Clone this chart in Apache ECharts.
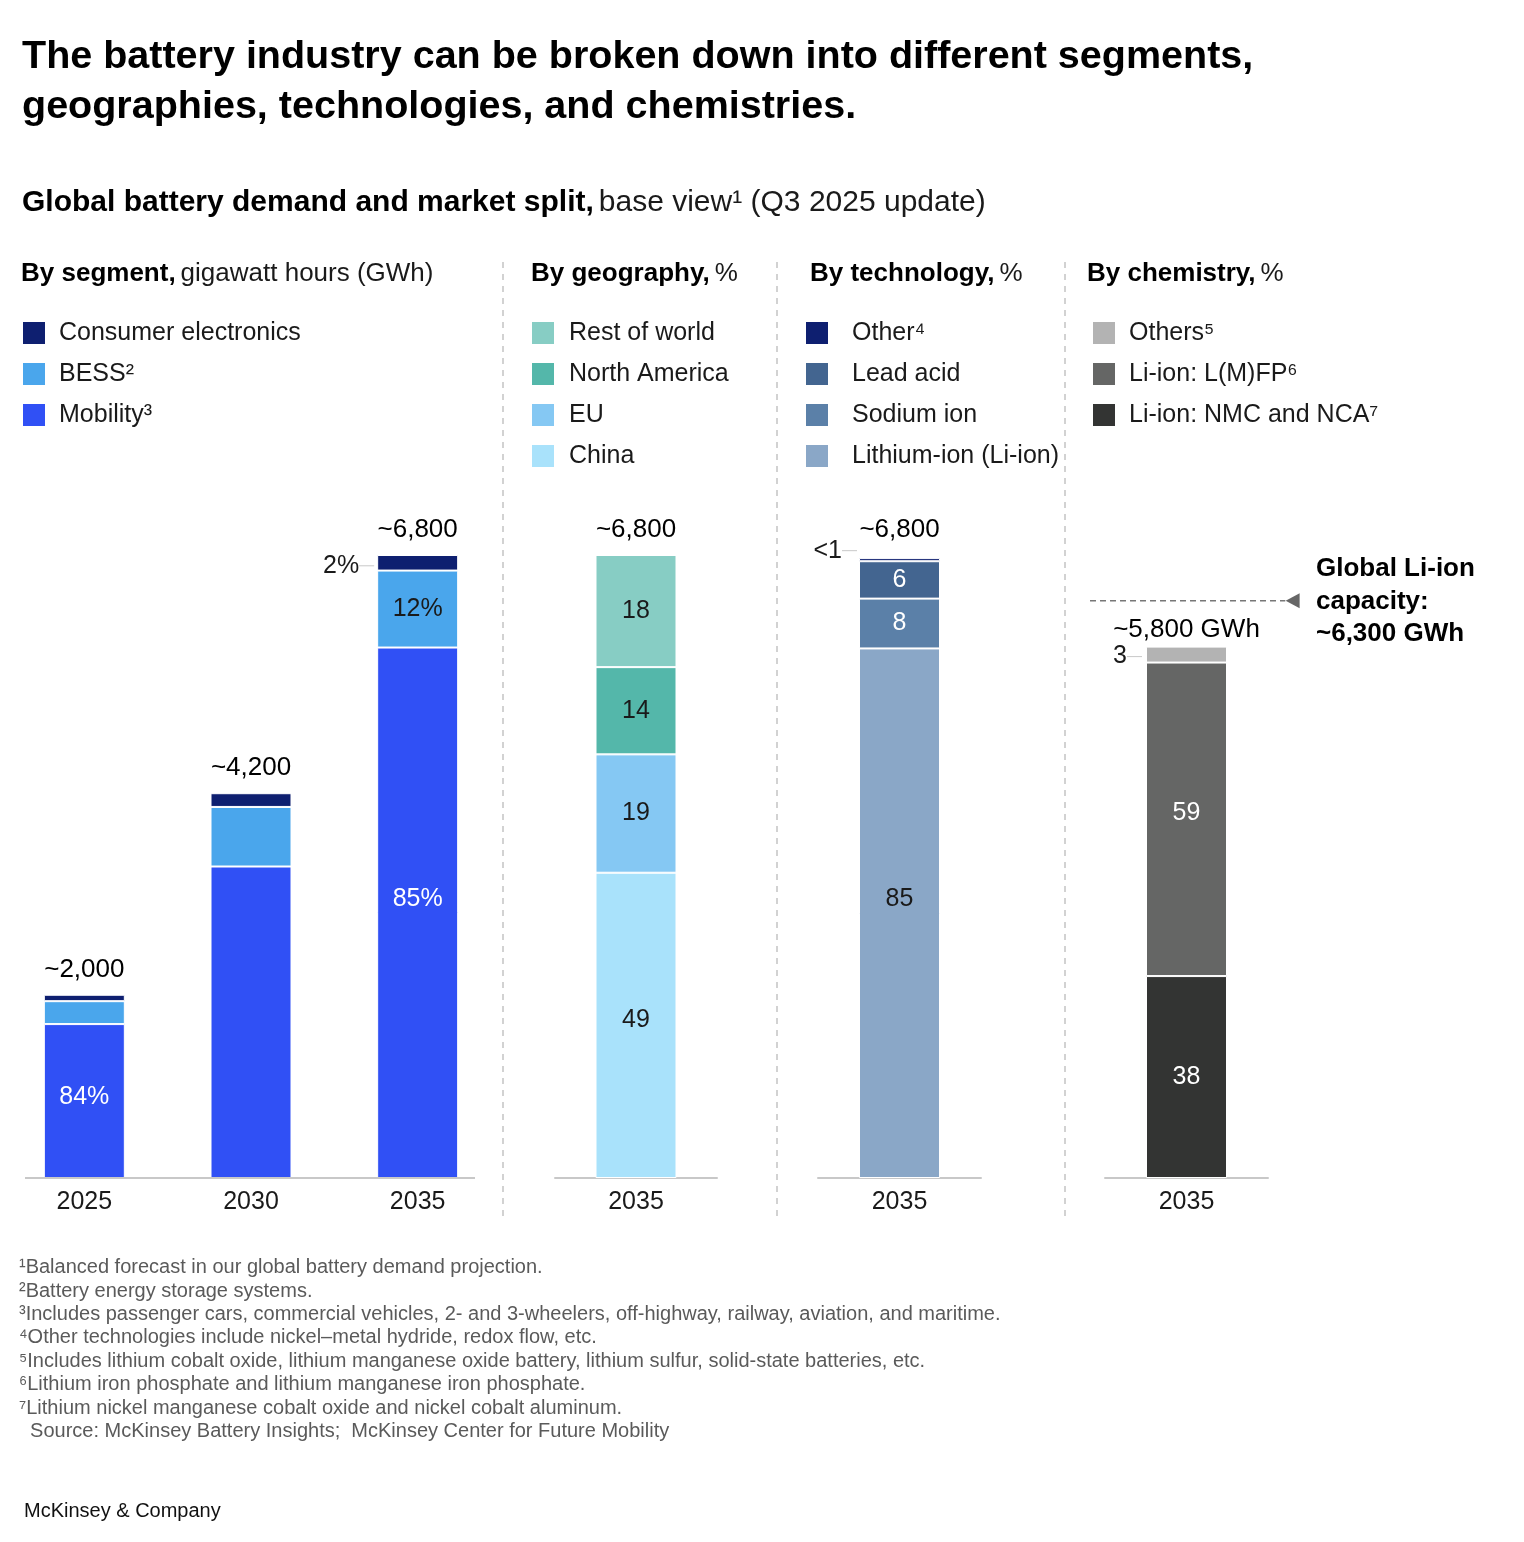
<!DOCTYPE html>
<html>
<head>
<meta charset="utf-8">
<script src="https://cdn.jsdelivr.net/npm/echarts@6/dist/echarts.min.js"></script>
<style>
html,body{margin:0;padding:0;background:#fff;}
#chart{width:1524px;height:1542px;}
</style>
</head>
<body>
<div id="chart"></div>
<script>
// ---------- DATA ----------
const years = ['2025', '2030', '2035'];
const mobility = [1680, 3400, 5790];
const bess = [250, 650, 840];
const consumer = [70, 150, 170];
const segmentTotals = [2000, 4200, 6800];
const mobilityShareLabels = ['84%', '', '85%'];
const bessShareLabels = ['', '', '12%'];
const consumerShareLabels = ['', '', '2%'];

const splitYear = ['2035'];
const totalDemand2035 = 6800;

const geoChina = [49];
const geoEU = [19];
const geoNorthAmerica = [14];
const geoRestOfWorld = [18];

const techLiIon = [85];
const techSodiumIon = [8];
const techLeadAcid = [6];
const techOther = [0.5];

const chemNMC = [38];
const chemLFP = [59];
const chemOthers = [3];
const chemTotalGWh = 5800;
const liIonCapacityGWh = 6300;

// ---------- STYLE ----------
const FONT = 'Liberation Sans, Arial, sans-serif';
const TXT = '#1a1a1a';
const baseY = 1178;
const chartTop = 555;
const bottomPx = 1542 - baseY;

const chart = echarts.init(document.getElementById('chart'), null, {renderer: 'canvas'});

function fmtNum(n) { return n.toLocaleString('en-US'); }

const leaderRich = {
  t: {fontSize: 25, color: TXT, fontFamily: FONT},
  l: {width: 15, height: 1, backgroundColor: '#c8c8c8', verticalAlign: 'middle'}
};

function barSeries(name, data, color, xi, stack, labelOpt) {
  return {
    type: 'bar', name: name, stack: stack, data: data,
    xAxisIndex: xi, yAxisIndex: xi, barWidth: 81,
    itemStyle: {color: color, borderColor: '#fff', borderWidth: 1},
    label: Object.assign({show: true, position: 'inside', fontSize: 25, fontFamily: FONT, color: TXT}, labelOpt || {}),
    emphasis: {disabled: true}, animation: false
  };
}

function totalSeries(xi, data, formatter, dist) {
  return {
    type: 'scatter', xAxisIndex: xi, yAxisIndex: xi, data: data, symbolSize: 0,
    itemStyle: {opacity: 1},
    label: {show: true, position: 'top', distance: dist, fontSize: 26, fontFamily: FONT, color: '#000', opacity: 1, formatter: formatter},
    emphasis: {disabled: true}, animation: false, z: 5
  };
}

function legend(left, padLeft, names) {
  return {
    left: left, top: 320, orient: 'vertical', padding: 0,
    itemWidth: 24, itemHeight: 24, itemGap: 15, icon: 'rect', selectedMode: false,
    data: names,
    textStyle: {fontSize: 25, lineHeight: 24, fontFamily: FONT, color: TXT, padding: [0, 0, 0, padLeft]}
  };
}

function header(left, bold, reg) {
  return {
    left: left, top: 261, padding: 0,
    text: '{b|' + bold + '} {r|' + reg + '}',
    textStyle: {fontWeight: 'normal', rich: {
      b: {fontSize: 26, fontWeight: 'bold', fontFamily: FONT, color: '#000'},
      r: {fontSize: 26, fontWeight: 'normal', fontFamily: FONT, color: TXT}
    }}
  };
}

const xAxisBase = {
  type: 'category', data: splitYear,
  axisTick: {show: false},
  axisLine: {show: true, lineStyle: {color: '#c8c8c8', width: 2}},
  axisLabel: {fontSize: 25, fontFamily: FONT, color: TXT, margin: 12}
};

const chemMax = 100 * totalDemand2035 / chemTotalGWh;

const option = {
  backgroundColor: '#fff',
  textStyle: {fontFamily: FONT},
  title: [
    {left: 22, top: 32, padding: 0, text: 'The battery industry can be broken down into different segments,\ngeographies, technologies, and chemistries.',
     textStyle: {fontSize: 39.5, fontWeight: 'bold', fontFamily: FONT, color: '#000', lineHeight: 50}},
    {left: 22, top: 188, padding: 0, text: '{b|Global battery demand and market split,} {r|base view¹ (Q3 2025 update)}',
     textStyle: {fontWeight: 'normal', rich: {
       b: {fontSize: 30, fontWeight: 'bold', fontFamily: FONT, color: '#000'},
       r: {fontSize: 30, fontWeight: 'normal', fontFamily: FONT, color: TXT}}}},
    header(21, 'By segment,', 'gigawatt hours (GWh)'),
    header(531, 'By geography,', '%'),
    header(810, 'By technology,', '%'),
    header(1087, 'By chemistry,', '%')
  ],
  legend: [
    legend(21, 8, ['Consumer electronics', 'BESS²', 'Mobility³']),
    legend(530, 9, ['Rest of world', 'North America', 'EU', 'China']),
    legend(804, 18, ['Other⁴', 'Lead acid', 'Sodium ion', 'Lithium-ion (Li-ion)']),
    legend(1091, 8, ['Others⁵', 'Li-ion: L(M)FP⁶', 'Li-ion: NMC and NCA⁷'])
  ],
  grid: [
    {left: 1, width: 500, top: chartTop, bottom: bottomPx},
    {left: 555, width: 162, top: chartTop, bottom: bottomPx},
    {left: 818, width: 163, top: chartTop, bottom: bottomPx},
    {left: 1105, width: 163, top: chartTop, bottom: bottomPx},
    {left: 1090, width: 210, top: chartTop, bottom: bottomPx}
  ],
  xAxis: [
    Object.assign({}, xAxisBase, {gridIndex: 0, data: years, axisLine: {show: false}}),
    Object.assign({}, xAxisBase, {gridIndex: 1}),
    Object.assign({}, xAxisBase, {gridIndex: 2}),
    Object.assign({}, xAxisBase, {gridIndex: 3}),
    {type: 'value', gridIndex: 4, min: 0, max: 1, show: false}
  ],
  yAxis: [
    {type: 'value', gridIndex: 0, min: 0, max: totalDemand2035, show: false},
    {type: 'value', gridIndex: 1, min: 0, max: 100, show: false},
    {type: 'value', gridIndex: 2, min: 0, max: 100, show: false},
    {type: 'value', gridIndex: 3, min: 0, max: chemMax, show: false},
    {type: 'value', gridIndex: 4, min: 0, max: totalDemand2035, show: false}
  ],
  series: [
    // segment
    barSeries('Mobility³', mobility.map((v, i) => ({value: v, label: {offset: [0, i === 2 ? -14 : -4]}})), '#3050f5', 0, 'seg',
      {color: '#fff', formatter: p => mobilityShareLabels[p.dataIndex]}),
    barSeries('BESS²', bess, '#4aa6ec', 0, 'seg',
      {formatter: p => bessShareLabels[p.dataIndex]}),
    barSeries('Consumer electronics', consumer, '#0e1f70', 0, 'seg',
      {position: 'left', distance: 3, offset: [0, 3], rich: leaderRich,
       formatter: p => consumerShareLabels[p.dataIndex] ? '{t|' + consumerShareLabels[p.dataIndex] + '}{l|}' : ''}),
    totalSeries(0, segmentTotals, p => '~' + fmtNum(p.value), 12),
    // geography
    barSeries('China', geoChina.map(v => ({value: v, label: {offset: [0, -5]}})), '#a9e2fb', 1, 'geo'),
    barSeries('EU', geoEU, '#85c8f3', 1, 'geo'),
    barSeries('North America', geoNorthAmerica, '#54b7aa', 1, 'geo'),
    barSeries('Rest of world', geoRestOfWorld, '#87cdc4', 1, 'geo'),
    totalSeries(1, [100], () => '~' + fmtNum(totalDemand2035), 12),
    // technology
    barSeries('Lithium-ion (Li-ion)', techLiIon.map(v => ({value: v, label: {offset: [0, -14]}})), '#8aa7c7', 2, 'tech'),
    barSeries('Sodium ion', techSodiumIon, '#5b80a8', 2, 'tech', {color: '#fff'}),
    barSeries('Lead acid', techLeadAcid, '#436590', 2, 'tech', {color: '#fff'}),
    barSeries('Other⁴', techOther, '#0e1f70', 2, 'tech',
      {position: 'left', distance: 2, offset: [0, -9], rich: leaderRich,
       formatter: p => '{t|' + (p.value < 1 ? '<1' : p.value) + '}{l|}'}),
    totalSeries(2, [100], () => '~' + fmtNum(totalDemand2035), 12),
    // chemistry
    barSeries('Li-ion: NMC and NCA⁷', chemNMC, '#333433', 3, 'chem', {color: '#fff'}),
    barSeries('Li-ion: L(M)FP⁶', chemLFP.map(v => ({value: v, label: {offset: [0, -6]}})), '#656665', 3, 'chem', {color: '#fff'}),
    barSeries('Others⁵', chemOthers, '#b3b3b3', 3, 'chem',
      {position: 'left', distance: 4, offset: [0, 2], rich: leaderRich,
       formatter: p => '{t|' + p.value + '}{l|}'}),
    totalSeries(3, [100], () => '~' + fmtNum(chemTotalGWh) + ' GWh', 4),
    // Li-ion capacity reference
    {type: 'line', xAxisIndex: 4, yAxisIndex: 4, data: [[0, liIonCapacityGWh], [0.93, liIonCapacityGWh]],
     symbol: 'none', lineStyle: {color: '#777', width: 1.5, type: [6, 4]}, animation: false, silent: true},
    {type: 'scatter', xAxisIndex: 4, yAxisIndex: 4, data: [[0.965, liIonCapacityGWh]],
     symbol: 'triangle', symbolSize: [15, 14], symbolRotate: 90, itemStyle: {color: '#666', opacity: 1}, animation: false, silent: true}
  ],
  graphic: [
    {type: 'line', shape: {x1: 25, y1: baseY, x2: 475, y2: baseY}, style: {stroke: '#c8c8c8', lineWidth: 2}, z: 10},
    {type: 'line', shape: {x1: 503, y1: 262, x2: 503, y2: 1216}, style: {stroke: '#c4c4c4', lineWidth: 1.5, lineDash: [6, 6]}},
    {type: 'line', shape: {x1: 777, y1: 262, x2: 777, y2: 1216}, style: {stroke: '#c4c4c4', lineWidth: 1.5, lineDash: [6, 6]}},
    {type: 'line', shape: {x1: 1065, y1: 262, x2: 1065, y2: 1216}, style: {stroke: '#c4c4c4', lineWidth: 1.5, lineDash: [6, 6]}},
    {type: 'text', left: 1316, top: 553, style: {
      text: 'Global Li-ion\ncapacity:\n~' + fmtNum(liIonCapacityGWh) + ' GWh',
      fontSize: 26, fontWeight: 'bold', fontFamily: FONT, fill: '#000', lineHeight: 32.5}},
    {type: 'text', left: 19, top: 1256, style: {
      text: '¹Balanced forecast in our global battery demand projection.\n' +
            '²Battery energy storage systems.\n' +
            '³Includes passenger cars, commercial vehicles, 2- and 3-wheelers, off-highway, railway, aviation, and maritime.\n' +
            '⁴Other technologies include nickel–metal hydride, redox flow, etc.\n' +
            '⁵Includes lithium cobalt oxide, lithium manganese oxide battery, lithium sulfur, solid-state batteries, etc.\n' +
            '⁶Lithium iron phosphate and lithium manganese iron phosphate.\n' +
            '⁷Lithium nickel manganese cobalt oxide and nickel cobalt aluminum.\n' +
            '  Source: McKinsey Battery Insights;  McKinsey Center for Future Mobility',
      fontSize: 20, fontFamily: FONT, fill: '#5a5a5a', lineHeight: 23.4}},
    {type: 'text', left: 24, top: 1501, style: {text: 'McKinsey & Company', fontSize: 20, fontFamily: FONT, fill: '#111'}}
  ]
};
chart.setOption(option);
</script>
</body>
</html>
